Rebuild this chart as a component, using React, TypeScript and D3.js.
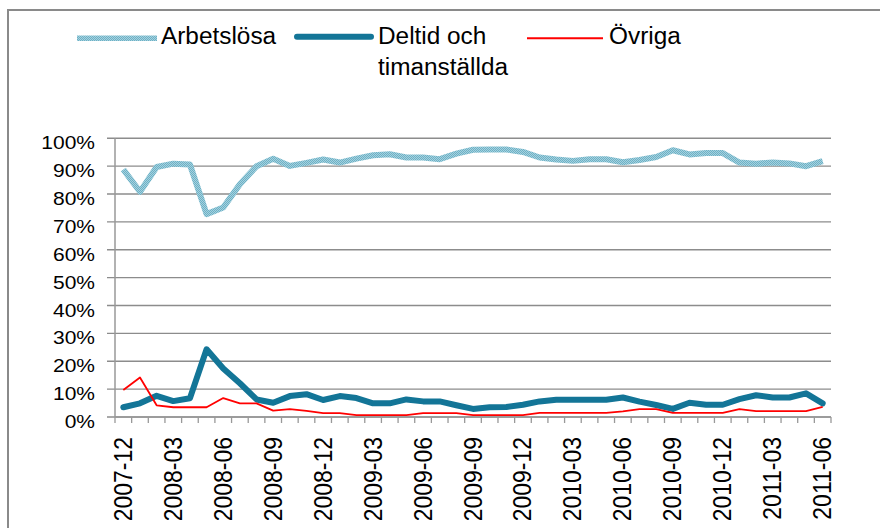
import React from "react";
import * as d3 from "d3";

const months: string[] = d3
  .timeMonths(new Date(2007, 11, 1), new Date(2011, 6, 1))
  .map((d) => d3.timeFormat("%Y-%m")(d));

const arbetslosa = [88.8, 80.8, 89.7, 90.9, 90.6, 72.8, 75.2, 83.5, 90, 92.7, 90.1, 91.2, 92.4, 91.3, 92.7, 93.9, 94.3, 93.1, 93.1, 92.5, 94.5, 95.9, 96, 96, 95.1, 93.1, 92.4, 91.9, 92.5, 92.5, 91.4, 92.2, 93.3, 95.7, 94.2, 94.7, 94.7, 91.3, 90.9, 91.3, 91, 90, 91.8];
const deltid = [3.5, 4.9, 7.6, 5.7, 6.7, 24.3, 17.4, 12.1, 6.3, 5.1, 7.5, 8.2, 6.1, 7.5, 6.8, 4.9, 4.9, 6.3, 5.6, 5.6, 4.2, 2.9, 3.5, 3.6, 4.4, 5.6, 6.2, 6.2, 6.2, 6.2, 7.0, 5.5, 4.3, 2.9, 5.1, 4.4, 4.4, 6.4, 7.8, 7.0, 7.0, 8.5, 4.9];
const ovriga = [9.7, 14.2, 4.2, 3.5, 3.5, 3.5, 6.8, 4.9, 4.9, 2.3, 2.8, 2.2, 1.4, 1.4, 0.7, 0.7, 0.7, 0.7, 1.4, 1.4, 1.4, 0.7, 0.7, 0.7, 0.7, 1.5, 1.5, 1.5, 1.5, 1.5, 2.0, 2.8, 2.8, 1.5, 1.5, 1.5, 1.5, 2.8, 2.1, 2.1, 2.1, 2.1, 3.6];
const yTicks = [0, 10, 20, 30, 40, 50, 60, 70, 80, 90, 100];

const W = 880;
const H = 528;
const L = 115;
const R = 831;
const T = 138.3;
const B = 417;

const FONT = "'Liberation Sans', Arial, sans-serif";

export default function App() {
  const x = d3.scaleBand<string>().domain(months).range([L, R]).padding(0);
  const y = d3.scaleLinear().domain([0, 100]).range([B, T]);
  const cx = (i: number) => (x(months[i]) as number) + x.bandwidth() / 2;
  const line = d3
    .line<number>()
    .x((_, i) => cx(i))
    .y((v) => y(v));

  const boundaries = months.map((m) => x(m) as number).concat([R]);

  return (
    <svg
      width={W}
      height={H}
      style={{ position: "absolute", left: 0, top: 0, background: "#fff" }}
      fontFamily={FONT}
    >
      <defs>
        <pattern id="tex" width="2" height="2" patternUnits="userSpaceOnUse">
          <rect width="2" height="2" fill="#a6d1de" />
          <rect width="1" height="1" fill="#6cb1c6" />
          <rect x="1" y="1" width="1" height="1" fill="#6cb1c6" />
        </pattern>
      </defs>
      <rect x={0} y={0} width={W} height={H} fill="#fff" />
      {/* chart border */}
      <path d={`M8,${H} L8,10 L${W},10`} fill="none" stroke="#8a8a8a" strokeWidth={2} />

      {/* gridlines */}
      {yTicks.map((t) => (
        <line key={"g" + t} x1={L - 8} x2={R} y1={y(t)} y2={y(t)} stroke="#8c8c8c" strokeWidth={1.4} />
      ))}
      {/* y axis */}
      <line x1={L} x2={L} y1={T} y2={B} stroke="#999" strokeWidth={1.5} />
      {yTicks.map((t) => (
        <text
          key={"yl" + t}
          transform={`translate(95,${y(t) + 11}) scale(1.2,1)`}
          textAnchor="end"
          fontSize={17.5}
          fill="#000"
        >
          {t + "%"}
        </text>
      ))}
      {/* x axis */}
      <line x1={L} x2={R} y1={B} y2={B} stroke="#999" strokeWidth={1.5} />
      {boundaries.map((bx, i) => (
        <line key={"xt" + i} x1={bx} x2={bx} y1={B} y2={B + 6} stroke="#999" strokeWidth={1.3} />
      ))}
      {months.map((m, i) =>
        i % 3 === 0 ? (
          <text
            key={"xl" + m}
            transform={`translate(${cx(i) + 8.5},437) rotate(-90) scale(1,1.12)`}
            textAnchor="end"
            fontSize={23}
            fill="#000"
          >
            {m}
          </text>
        ) : null
      )}

      {/* series */}
      <path d={line(arbetslosa) || ""} fill="none" stroke="url(#tex)" strokeWidth={6} strokeLinejoin="round" />
      <path d={line(deltid) || ""} fill="none" stroke="#137597" strokeWidth={6} strokeLinejoin="round" strokeLinecap="round" />
      <path d={line(ovriga) || ""} fill="none" stroke="#ff0000" strokeWidth={1.8} strokeLinejoin="round" />

      {/* legend */}
      <line x1={77} x2={157} y1={38.3} y2={38.3} stroke="url(#tex)" strokeWidth={5.5} />
      <text transform="translate(161,44.3) scale(1.06,1)" fontSize={23} fill="#000">Arbetslösa</text>
      <line x1={297} x2={371} y1={36.8} y2={36.8} stroke="#137597" strokeWidth={6} strokeLinecap="round" />
      <text transform="translate(378,44.3) scale(1.06,1)" fontSize={23} fill="#000">Deltid och</text>
      <text transform="translate(378,74.5) scale(1.06,1)" fontSize={23} fill="#000">timanställda</text>
      <line x1={527} x2={603} y1={38.3} y2={38.3} stroke="#ff0000" strokeWidth={2} />
      <text transform="translate(609,44.3) scale(1.06,1)" fontSize={23} fill="#000">Övriga</text>
    </svg>
  );
}
